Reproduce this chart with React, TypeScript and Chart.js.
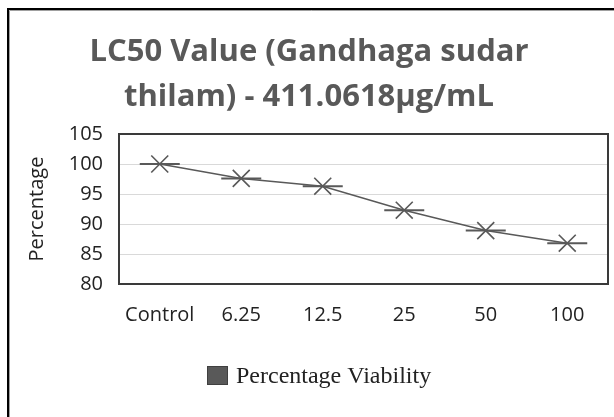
import React, { useEffect, useRef } from "react";
import { Chart, registerables } from "chart.js";

Chart.register(...registerables);

const categories = ["Control", "6.25", "12.5", "25", "50", "100"];
const viability = [100, 97.6, 96.3, 92.3, 88.9, 86.8];
const titleLines = ["LC50 Value (Gandhaga sudar", "thilam) - 411.0618µg/mL"];
const seriesName = "Percentage Viability";
const yAxisTitle = "Percentage";
const yMin = 80;
const yMax = 105;
const yStep = 5;

const GRAY = "#595959";

const framePlugin = {
  id: "frames",
  beforeDraw(chart: any) {
    const ctx = chart.ctx;
    ctx.save();
    ctx.fillStyle = "#ffffff";
    ctx.fillRect(0, 0, chart.width, chart.height);
    ctx.strokeStyle = "#000000";
    ctx.lineWidth = 2;
    ctx.beginPath();
    ctx.moveTo(8, chart.height);
    ctx.lineTo(8, 9);
    ctx.lineTo(chart.width, 9);
    ctx.stroke();
    ctx.strokeStyle = "#a0a0a0";
    ctx.lineWidth = 1;
    ctx.beginPath();
    ctx.moveTo(9.5, chart.height);
    ctx.lineTo(9.5, 10.5);
    ctx.lineTo(chart.width, 10.5);
    ctx.stroke();
    ctx.restore();
  },
  beforeDatasetsDraw(chart: any) {
    const { left, top, right, bottom } = chart.chartArea;
    const ctx = chart.ctx;
    ctx.save();
    ctx.strokeStyle = "#3a3a3a";
    ctx.lineWidth = 2;
    ctx.strokeRect(left, top, right - left, bottom - top);
    ctx.restore();
  },
  afterDraw(chart: any) {
    const ctx = chart.ctx;
    ctx.save();
    const boxX = 207;
    const boxY = 366;
    const boxW = 21;
    const boxH = 19;
    ctx.fillStyle = GRAY;
    ctx.fillRect(boxX, boxY, boxW, boxH);
    ctx.strokeStyle = "#404040";
    ctx.lineWidth = 1;
    ctx.strokeRect(boxX + 0.5, boxY + 0.5, boxW - 1, boxH - 1);
    ctx.fillStyle = "#222222";
    ctx.font = "24px 'Liberation Serif'";
    ctx.textBaseline = "middle";
    ctx.textAlign = "left";
    ctx.fillText(seriesName, boxX + boxW + 8, boxY + boxH / 2 + 1);
    ctx.restore();
  },
};

export default function App() {
  const ref = useRef<HTMLCanvasElement | null>(null);
  useEffect(() => {
    if (!ref.current) return;
    const chart = new Chart(ref.current, {
      type: "line",
      data: {
        labels: categories,
        datasets: [
          {
            label: seriesName,
            data: viability,
            borderColor: GRAY,
            backgroundColor: GRAY,
            borderWidth: 1.5,
            pointStyle: "crossRot",
            pointRadius: 12,
            pointBorderWidth: 1.6,
            pointBorderColor: GRAY,
            pointHoverRadius: 12,
            tension: 0,
          },
          {
            label: "_dash",
            data: viability,
            showLine: false,
            borderColor: GRAY,
            backgroundColor: GRAY,
            pointStyle: "line",
            pointRadius: 20,
            pointBorderWidth: 2,
            pointBorderColor: GRAY,
          },
        ],
      },
      options: {
        animation: false,
        responsive: false,
        devicePixelRatio: 1,
        layout: { autoPadding: false, padding: { top: 10, left: 10, right: 6, bottom: 83 } },
        plugins: {
          tooltip: { enabled: false },
          legend: { display: false },
          title: {
            display: true,
            text: titleLines,
            color: GRAY,
            font: { family: "'Open Sans'", size: 31, weight: "bold", lineHeight: 45 / 31 },
            padding: { top: 20, bottom: 14 },
          },
        },
        scales: {
          x: {
            grid: { display: false, drawTicks: false },
            border: { display: false },
            offset: true,
            ticks: {
              color: "#222222",
              font: { family: "'Open Sans'", size: 20 },
              padding: 19,
              maxRotation: 0,
            },
            afterFit: (s: any) => {
              s.height = 50;
            },
          },
          y: {
            min: yMin,
            max: yMax,
            grid: { color: "#d9d9d9", lineWidth: 1, drawTicks: false },
            border: { display: false },
            ticks: {
              stepSize: yStep,
              color: "#222222",
              font: { family: "'Open Sans'", size: 20 },
              padding: 16,
            },
            title: {
              display: true,
              text: yAxisTitle,
              color: "#222222",
              font: { family: "'Open Sans'", size: 20 },
              padding: { top: 15, bottom: 0 },
            },
            afterFit: (s: any) => {
              s.width = 109;
            },
          },
        },
      },
      plugins: [framePlugin],
    });
    return () => chart.destroy();
  }, []);
  return (
    <div style={{ position: "fixed", left: 0, top: 0, width: 614, height: 417, background: "#fff" }}>
      <canvas ref={ref} width={614} height={417} style={{ display: "block" }} />
    </div>
  );
}
